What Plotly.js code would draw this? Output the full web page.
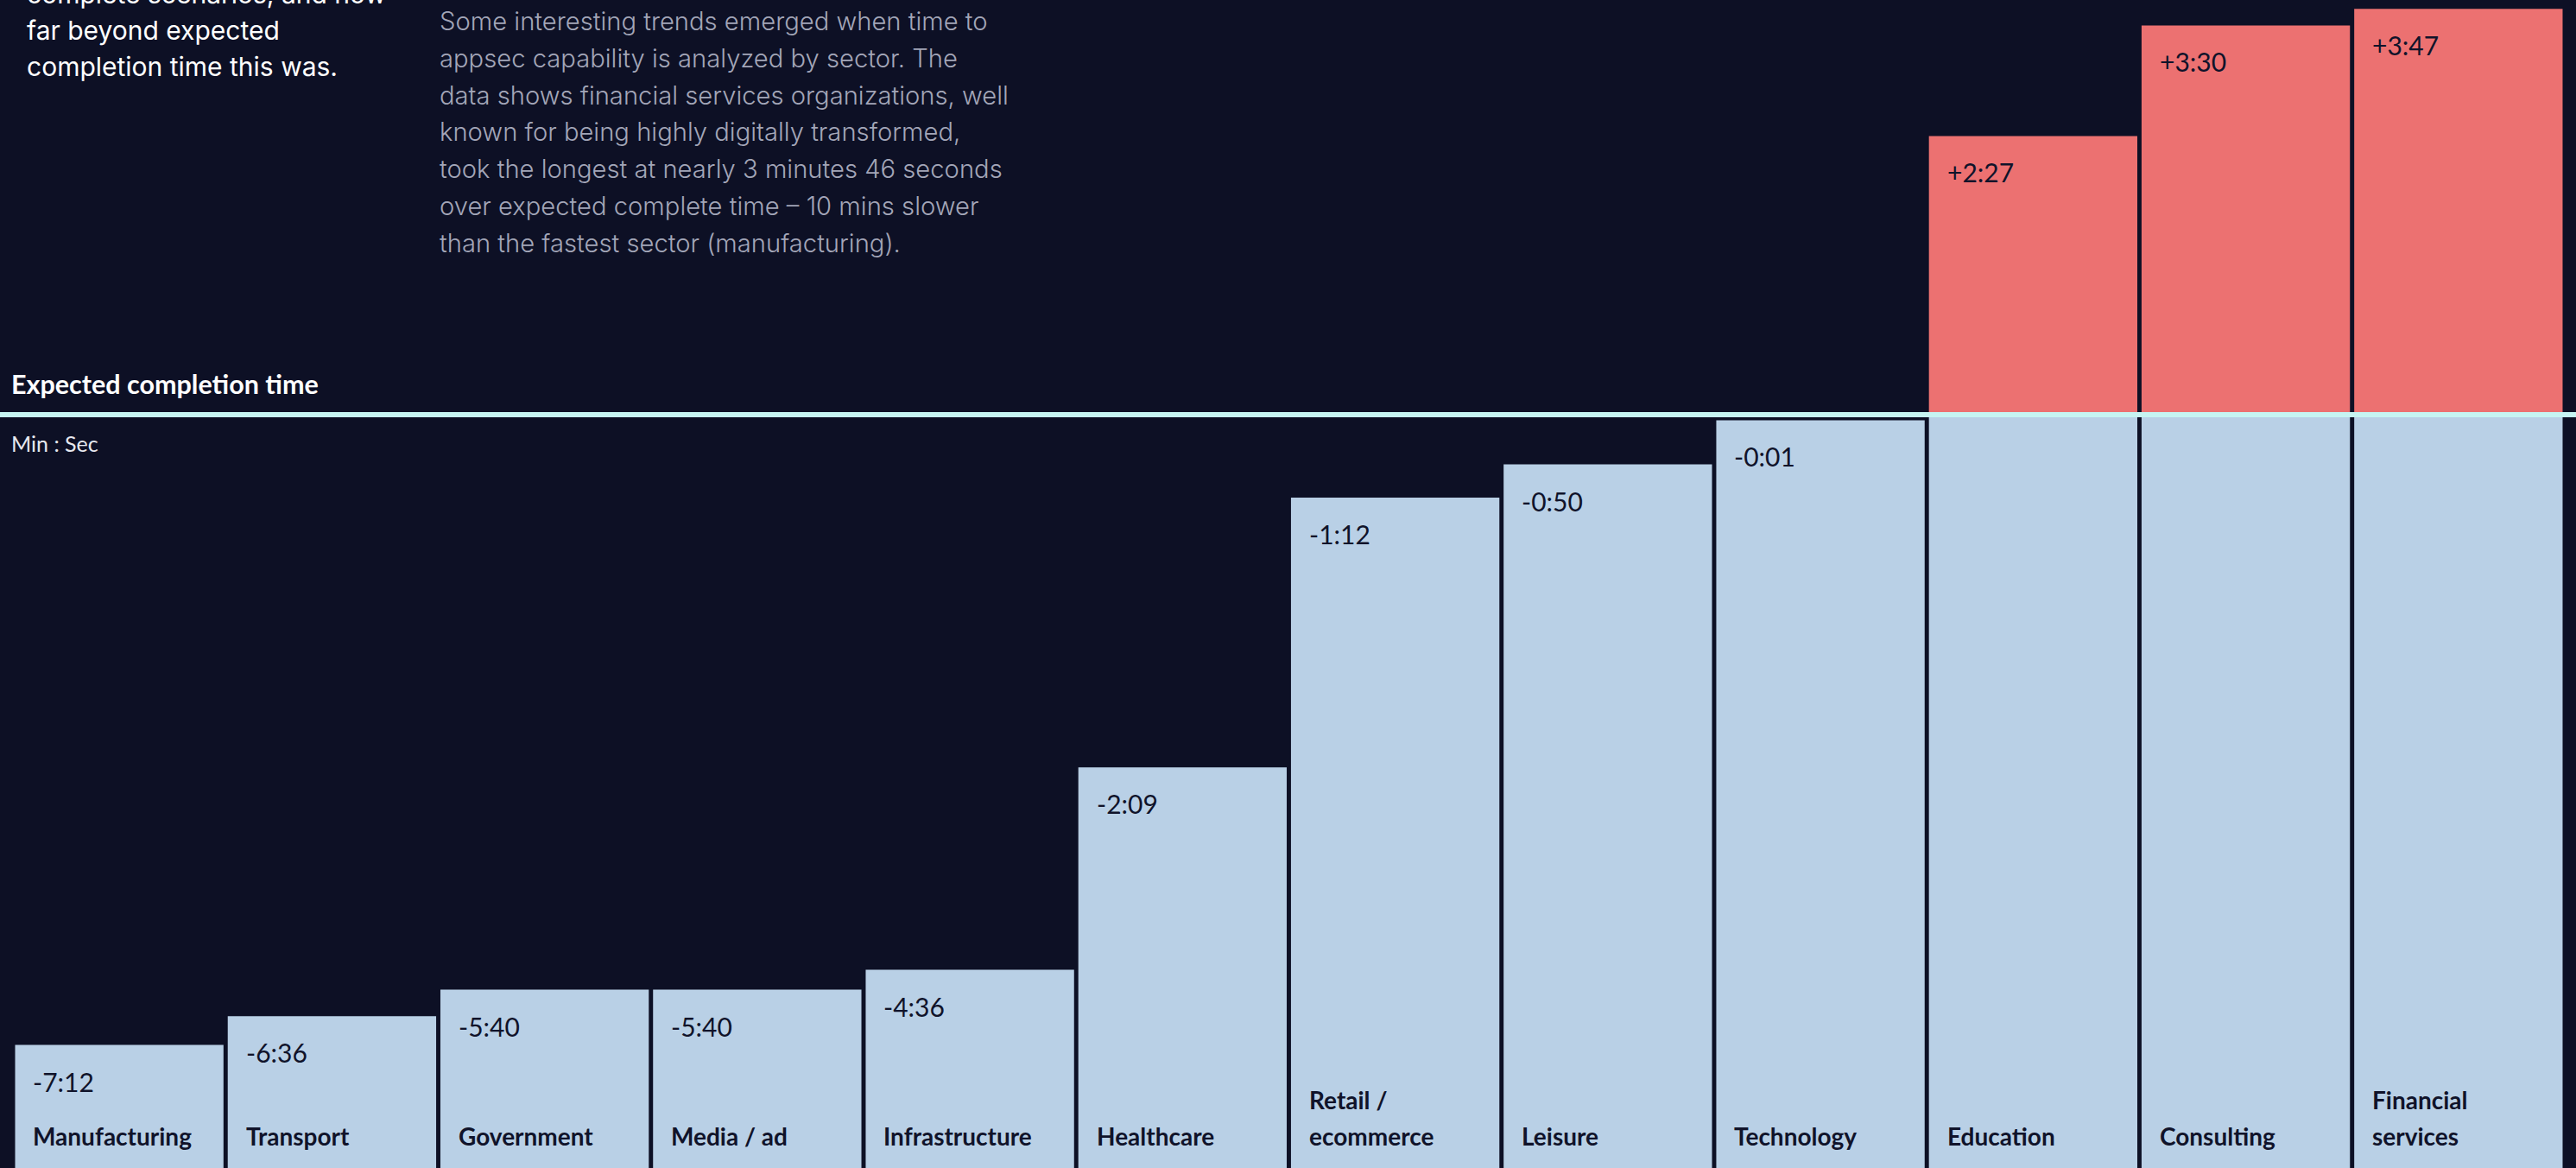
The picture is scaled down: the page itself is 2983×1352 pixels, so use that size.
<!DOCTYPE html>
<html><head><meta charset="utf-8">
<script src="https://cdn.plot.ly/plotly-3.0.1.min.js"></script>
<style>html,body{margin:0;padding:0;background:#0d1025;overflow:hidden}</style>
</head><body><div id="chart" style="width:2983px;height:1352px"></div>
<script>
// ---- data ----
const sectors = ["Manufacturing","Transport","Government","Media / ad","Infrastructure","Healthcare","Retail / ecommerce","Leisure","Technology","Education","Consulting","Financial services"];
const sectorLabelLines = [["Manufacturing"],["Transport"],["Government"],["Media / ad"],["Infrastructure"],["Healthcare"],["Retail /","ecommerce"],["Leisure"],["Technology"],["Education"],["Consulting"],["Financial","services"]];
const deltaLabels = ["-7:12","-6:36","-5:40","-5:40","-4:36","-2:09","-1:12","-0:50","-0:01","+2:27","+3:30","+3:47"];
// bar heights as drawn in the graphic (not to scale): offset from expected completion time, minutes
const drawnOffset = [-5.70,-5.44,-5.20,-5.20,-5.02,-3.19,-0.75,-0.45,-0.05,2.52,3.52,3.67];
const introText = ["complete scenarios, and how","far beyond expected","completion time this was."];
const bodyText = ["Some interesting trends emerged when time to","appsec capability is analyzed by sector. The","data shows financial services organizations, well","known for being highly digitally transformed,","took the longest at nearly 3 minutes 46 seconds","over expected complete time \u2013 10 mins slower","than the fastest sector (manufacturing)."];
const lineLabel = "Expected completion time";
const unitLabel = "Min : Sec";

// ---- style ----
const W = 2983, H = 1352;
const BG = "#0d1025", BLUE = "#b9d0e6", RED = "#ec7171", INK = "#10132a", LINE = "#c6f4f2";
const FLOOR = -8;

const blueY = drawnOffset.map(v => Math.min(v, 0) - FLOOR);
const redY = drawnOffset.map(v => v > 0 ? v : null);

const traces = [
  {type:"bar", x:sectors, y:blueY, base:sectors.map(()=>FLOOR), marker:{color:BLUE, line:{width:0}}, hoverinfo:"skip", showlegend:false},
  {type:"bar", x:sectors, y:redY, base:sectors.map(()=>0), marker:{color:RED, line:{width:0}}, hoverinfo:"skip", showlegend:false}
];

const ann = [];
function textAt(px, baseline, text, fam, size, color, ascent) {
  ann.push({xref:"paper", yref:"paper", x:(px-1)/W, y:1-(baseline-ascent*size-1)/H,
    xanchor:"left", yanchor:"top", showarrow:false, text:text,
    font:{family:fam, size:size, color:color}, borderpad:1});
}
const LATO = "Lato, 'Noto Sans', sans-serif", INTER = "Inter, 'Noto Sans', sans-serif";

introText.forEach((t,i)=>textAt(30, 3 + 42*i, t, INTER, 30, "#ffffff", 0.969));
bodyText.forEach((t,i)=>textAt(508, 34.5 + 42.75*i, t, "Inter Light, Inter, sans-serif", 29.2, "#a3a6b8", 0.969));
textAt(12, 455, "<b>"+lineLabel+"</b>", LATO, 30.5, "#ffffff", 0.987);
textAt(12, 522, unitLabel, LATO, 25, "#e6e8ef", 0.987);

sectors.forEach((s,i)=>{
  // value label inside top of bar
  ann.push({xref:"x", yref:"y", x:i-0.49, y:drawnOffset[i], xanchor:"left", yanchor:"top",
    xshift:19, yshift:-22, showarrow:false, text:deltaLabels[i],
    font:{family:LATO, size:30, color:INK}, borderpad:1});
  // category label at bottom
  const lines = sectorLabelLines[i];
  lines.forEach((ln,j)=>{
    ann.push({xref:"x", yref:"paper", x:i-0.49, y:1-(1325-42*(lines.length-1-j)-0.987*28-1)/H,
      xanchor:"left", yanchor:"top", xshift:19, showarrow:false, text:"<b>"+ln+"</b>",
      font:{family:LATO, size:28, color:INK}, borderpad:1});
  });
});

const layout = {
  width:W, height:H, margin:{l:0,r:0,t:0,b:0},
  paper_bgcolor:BG, plot_bgcolor:BG,
  barmode:"overlay", bargap:0.02,
  xaxis:{type:"category", range:[-0.561, 11.553], showgrid:false, zeroline:false, showticklabels:false, showline:false, fixedrange:true},
  yaxis:{range:[-6.8125, 3.75], showgrid:false, zeroline:false, showticklabels:false, showline:false, fixedrange:true},
  shapes:[{type:"line", xref:"paper", yref:"y", x0:0, x1:1, y0:0, y1:0, line:{color:LINE, width:6}}],
  annotations:ann,
  showlegend:false
};
Plotly.newPlot("chart", traces, layout, {displayModeBar:false, staticPlot:true});
</script></body></html>
